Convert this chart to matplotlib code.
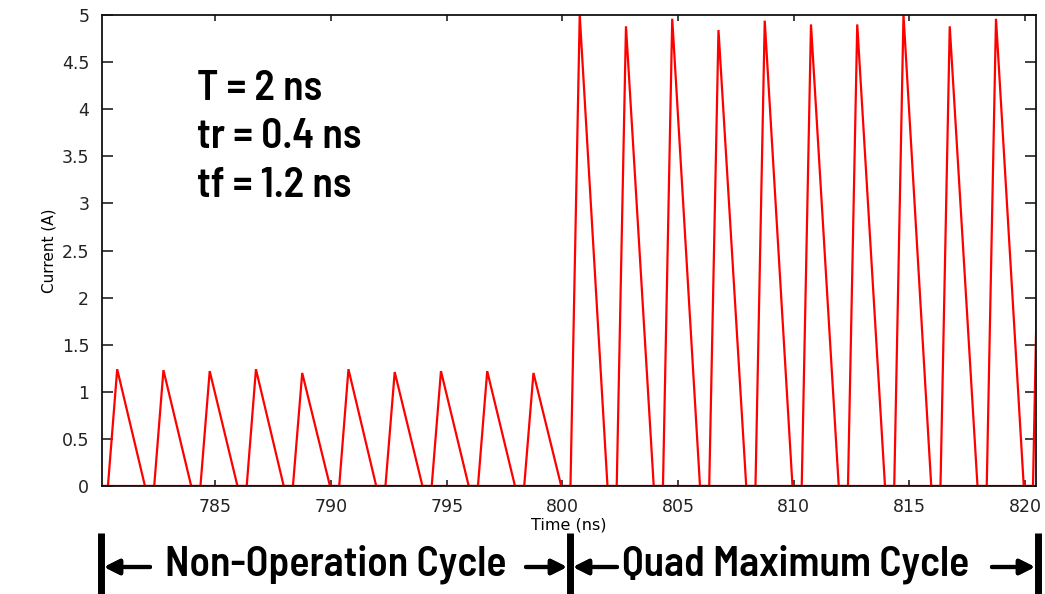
import matplotlib
matplotlib.use("Agg")
import matplotlib.pyplot as plt
from matplotlib.lines import Line2D

# pulse timing from the annotation
T_NS = 2.0
TR_NS = 0.4
TF_NS = 1.2

# non-operation cycle pulses (peak time, peak current)
small_peak_t = [780.75, 782.75, 784.75, 786.75, 788.75, 790.75, 792.75, 794.75, 796.75, 798.75]
small_peak_a = [1.24, 1.23, 1.22, 1.24, 1.20, 1.24, 1.21, 1.22, 1.22, 1.20]

# quad maximum cycle pulses
big_peak_t = [800.75, 802.75, 804.75, 806.75, 808.75, 810.75, 812.75, 814.75, 816.75, 818.75, 820.75]
big_peak_a = [5.00, 4.88, 4.96, 4.84, 4.94, 4.90, 4.90, 5.00, 4.88, 4.96, 4.90]

x_ticks = [785, 790, 795, 800, 805, 810, 815, 820]
y_ticks = [0, 0.5, 1, 1.5, 2, 2.5, 3, 3.5, 4, 4.5, 5]
y_ticklabels = ["0", "0.5", "1", "1.5", "2", "2.5", "3", "3.5", "4", "4.5", "5"]

params_text = ["T = 2 ns", "tr = 0.4 ns", "tf = 1.2 ns"]

W, H = 1045, 594


def pulse_vertices(peaks, amps):
    xs, ys = [], []
    for tp, a in zip(peaks, amps):
        xs += [tp - TR_NS, tp, tp + TF_NS]
        ys += [0.0, a, 0.0]
    return xs, ys


# Arial Narrow Bold look-alike
big_font = dict(family=["Barlow Semi Condensed", "Asap Condensed", "DejaVu Sans"],
                fontweight="semibold", fontsize=30)

sx, sy = pulse_vertices(small_peak_t, small_peak_a)
bx, by = pulse_vertices(big_peak_t, big_peak_a)
t = [779.0] + sx + bx + [823.0]
i = [0.0] + sy + by + [0.0]

fig = plt.figure(figsize=(W / 100, H / 100), dpi=100)
ax = fig.add_axes([101.7 / W, 1 - 486 / H, (1036 - 101.7) / W, (486 - 15) / H])

ax.plot(t, i, color="#ff0000", linewidth=1.6, solid_joinstyle="miter")
ax.axhline(0, color="#ff0000", linewidth=1.6)

ax.set_xlim(780.08, 820.48)
ax.set_ylim(0, 5)
ax.set_xticks(x_ticks)
ax.set_yticks(y_ticks)
ax.set_yticklabels(y_ticklabels)
ax.tick_params(axis="both", direction="in", top=True, right=True,
               labelsize=12.5, colors="#222222", width=1.2)
ax.tick_params(axis="y", length=8, pad=9)
ax.tick_params(axis="x", length=4.5, pad=9)
for s in ax.spines.values():
    s.set_linewidth(1.3)
    s.set_color("#111111")

ax.set_xlabel("Time (ns)", fontsize=11.5, labelpad=1)
ax.set_ylabel("Current (A)", fontsize=11, labelpad=4)

# parameter annotation
for k, s in enumerate(params_text):
    fig.text(197 / W, 1 - (100 + 48.5 * k) / H, s, va="baseline", ha="left", **big_font)

# cycle brackets below the chart
for xb in [101, 570, 1038]:
    fig.add_artist(Line2D([xb / W, xb / W], [1 - 533 / H, 0], color="black",
                          linewidth=5, solid_capstyle="butt"))

arrow_y = 1 - 567 / H
aprops = dict(arrowstyle="-|>,head_length=0.9,head_width=0.45", color="black",
              linewidth=3, shrinkA=0, shrinkB=0)
for x0, x1 in [(150, 104), (526, 567), (617, 573), (992, 1035)]:
    fig.add_artist(plt.annotate("", xy=(x1 / W, arrow_y), xytext=(x0 / W, arrow_y),
                                xycoords="figure fraction", textcoords="figure fraction",
                                arrowprops=aprops))

fig.text(336 / W, 1 - 564 / H, "Non-Operation Cycle", ha="center", va="center", **big_font)
fig.text(796 / W, 1 - 564 / H, "Quad Maximum Cycle", ha="center", va="center", **big_font)

fig.savefig("out.png", dpi=100)
